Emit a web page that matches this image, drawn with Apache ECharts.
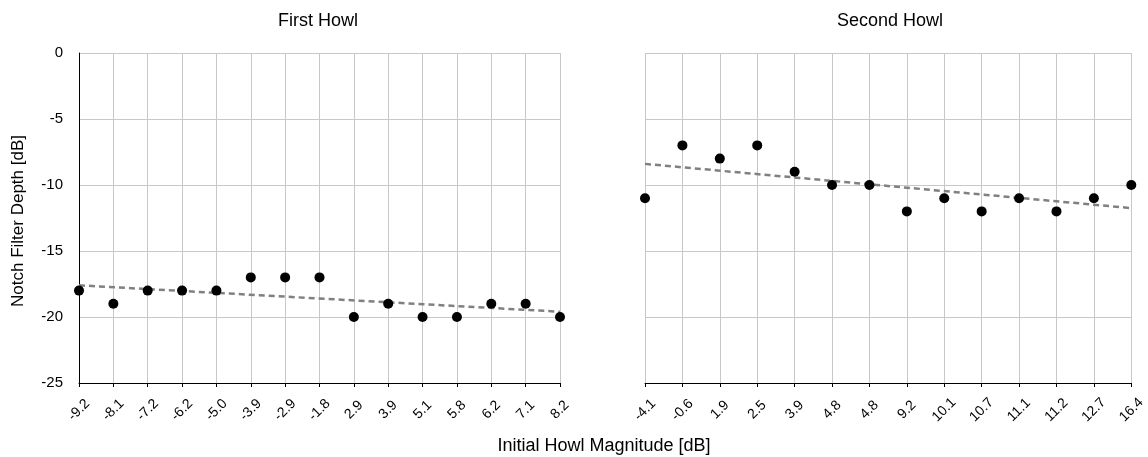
<!DOCTYPE html>
<html><head><meta charset="utf-8">
<script src="https://cdn.jsdelivr.net/npm/echarts@6/dist/echarts.min.js"></script>
<style>html,body{margin:0;padding:0;background:#fff}#c{width:1148px;height:457px}</style>
</head><body><div id="c"></div>
<script>
const firstCats = ['-9.2','-8.1','-7.2','-6.2','-5.0','-3.9','-2.9','-1.8','2.9','3.9','5.1','5.8','6.2','7.1','8.2'];
const firstVals = [-18,-19,-18,-18,-18,-17,-17,-17,-20,-19,-20,-20,-19,-19,-20];
const firstTrend = [-17.6, -19.6];
const secondCats = ['-4.1','-0.6','1.9','2.5','3.9','4.8','4.8','9.2','10.1','10.7','11.1','11.2','12.7','16.4'];
const secondVals = [-11,-7,-8,-7,-9,-10,-10,-12,-11,-12,-11,-12,-11,-10];
const secondTrend = [-8.4, -11.75];
const yTicks = [0,-5,-10,-15,-20,-25];

const font = 'Liberation Sans, Arial, Helvetica, sans-serif';
const chart = echarts.init(document.getElementById('c'));
function xAxis(idx, cats){
  return {type:'category', gridIndex:idx, data:cats, boundaryGap:false,
    axisLine:{onZero:false, lineStyle:{color:'#000',width:1}},
    axisTick:{show:true, alignWithLabel:true, length:4, lineStyle:{color:'#000'}},
    axisLabel:{rotate:45, color:'#000', fontSize:14, fontFamily:font, margin:27, interval:0,
      align:'center', verticalAlign:'middle'},
    splitLine:{show:true, lineStyle:{color:'#c8c8c8', width:1}}};
}
function yAxis(idx, showLab){
  return {type:'value', gridIndex:idx, min:-25, max:0, interval:5,
    axisLine:{show:showLab, lineStyle:{color:'#000'}},
    axisTick:{show:false},
    axisLabel:{show:showLab, color:'#000', fontSize:15, fontFamily:font, margin:16,
      formatter:v => yTicks.includes(v) ? String(v) : ''},
    splitLine:{show:true, lineStyle:{color:'#c8c8c8', width:1}}};
}
function pts(vals){ return vals.map((v,i)=>[i,v]); }
function trend(t, n){ return [[0,t[0]],[n-1,t[1]]]; }
chart.setOption({
  animation:false,
  textStyle:{fontFamily:font},
  graphic:[
    {type:'text', x:318, y:21, style:{text:'First Howl', fontSize:18, fill:'#000', fontFamily:font, align:'center', verticalAlign:'middle'}},
    {type:'text', x:890, y:21, style:{text:'Second Howl', fontSize:18, fill:'#000', fontFamily:font, align:'center', verticalAlign:'middle'}},
    {type:'text', x:604, y:446, style:{text:'Initial Howl Magnitude [dB]', fontSize:18, fill:'#000', fontFamily:font, align:'center', verticalAlign:'middle'}},
    {type:'text', x:18.5, y:221, rotation:Math.PI/2, style:{text:'Notch Filter Depth [dB]', fontSize:17, fill:'#000', fontFamily:font, align:'center', verticalAlign:'middle'}}
  ],
  grid:[
    {left:79, right:588, top:53, bottom:74},
    {left:645, right:14, top:53, bottom:74}
  ],
  xAxis:[xAxis(0, firstCats), xAxis(1, secondCats)],
  yAxis:[yAxis(0,true), yAxis(1,false)],
  series:[
    {type:'line', xAxisIndex:0, yAxisIndex:0, data:trend(firstTrend, firstCats.length), symbol:'none',
      lineStyle:{color:'#808080', width:2.5, type:[6,4]}, z:2},
    {type:'line', xAxisIndex:1, yAxisIndex:1, data:trend(secondTrend, secondCats.length), symbol:'none',
      lineStyle:{color:'#808080', width:2.5, type:[6,4]}, z:2},
    {type:'scatter', xAxisIndex:0, yAxisIndex:0, data:pts(firstVals), symbolSize:10, itemStyle:{color:'#000', opacity:1}, z:3},
    {type:'scatter', xAxisIndex:1, yAxisIndex:1, data:pts(secondVals), symbolSize:10, itemStyle:{color:'#000', opacity:1}, z:3}
  ]
});
</script></body></html>
